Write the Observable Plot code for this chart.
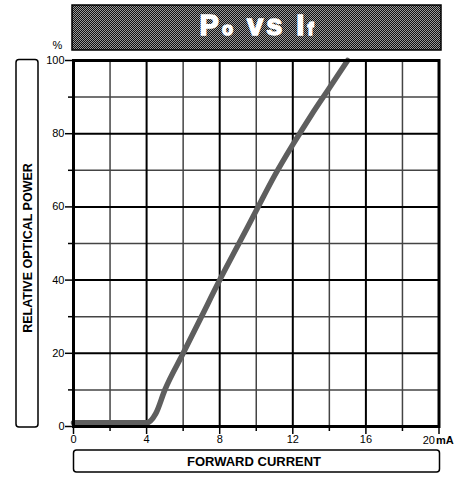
<!DOCTYPE html>
<html>
<head>
<meta charset="utf-8">
<script src="https://cdn.jsdelivr.net/npm/d3@7"></script>
<script src="https://cdn.jsdelivr.net/npm/@observablehq/plot@0.6"></script>
<style>
  html, body { margin: 0; padding: 0; background: #fff; }
</style>
</head>
<body>
<div id="chart"></div>
<script>
// Forward current (mA) vs relative optical power (%)
const current = [0, 1, 2, 3, 4, 4.5, 5, 6, 7, 8, 9, 10, 11, 12, 13, 14, 15];
const power   = [1, 1, 1, 1, 1, 3.5, 10, 20, 30, 40, 49.5, 59, 68.5, 77, 85, 92.5, 100];

const xMajorTicks = [0, 4, 8, 12, 16, 20];
const xMinorTicks = [2, 6, 10, 14, 18];
const yMajorTicks = [0, 20, 40, 60, 80, 100];
const yMinorTicks = [10, 30, 50, 70, 90];
const xGridMajor = [4, 8, 12, 16];
const yGridMajor = [20, 40, 60, 80];

const titleMain = "P", titleSub1 = "o", titleMid = " vs I", titleSub2 = "f";
const yTitle = "RELATIVE OPTICAL POWER";
const xTitle = "FORWARD CURRENT";
const yUnit = "%";
const xUnit = "mA";
const lastXLabel = "20";

const data = current.map((c, i) => ({current: c, power: power[i]}));

const W = 464, H = 480;
const mL = 73, mR = 25.5, mT = 60, mB = 54;
const font = "'Liberation Sans', Arial, sans-serif";

const chart = Plot.plot({
  width: W,
  height: H,
  marginLeft: mL,
  marginRight: mR,
  marginTop: mT,
  marginBottom: mB,
  x: {type: "linear", domain: [0, 20]},
  y: {type: "linear", domain: [0, 100]},
  style: {fontFamily: font, fontSize: "11px", color: "black", background: "white"},
  marks: [
    Plot.gridX(xMinorTicks, {stroke: "#444", strokeWidth: 1.5, strokeOpacity: 1}),
    Plot.gridY(yMinorTicks, {stroke: "#444", strokeWidth: 1.5, strokeOpacity: 1}),
    Plot.gridX(xGridMajor, {stroke: "#000", strokeWidth: 2, strokeOpacity: 1}),
    Plot.gridY(yGridMajor, {stroke: "#000", strokeWidth: 2, strokeOpacity: 1}),
    Plot.line(data, {x: "current", y: "power", stroke: "url(#curvePat)", strokeWidth: 5.5, curve: "monotone-x"}),
    Plot.frame({stroke: "black", strokeWidth: 3}),
    Plot.axisX(xMinorTicks, {tickSize: 5, tickFormat: () => "", label: null, strokeWidth: 1.5}),
    Plot.axisX(xMajorTicks, {tickSize: 8, tickPadding: 1, label: null, strokeWidth: 1.5, fontSize: 11,
      tickFormat: d => d === 20 ? "" : String(d)}),
    Plot.axisY(yMinorTicks, {tickSize: 5, tickFormat: () => "", label: null, strokeWidth: 1.5}),
    Plot.axisY(yMajorTicks, {tickSize: 8, tickPadding: 1, label: null, strokeWidth: 1.5, fontSize: 11}),
    Plot.text([lastXLabel], {x: 20, y: 0, text: d => d, textAnchor: "end", dx: -4, dy: 14, fontSize: 11}),
    Plot.text([xUnit], {x: 20, y: 0, text: d => d, textAnchor: "start", dx: -3, dy: 14, fontSize: 11, fontWeight: "bold"}),
    Plot.text([yUnit], {x: 0, y: 100, text: d => d, textAnchor: "middle", dx: -16, dy: -15, fontSize: 11})
  ]
});

const svg = d3.select(chart);
const defs = svg.insert("defs", ":first-child");
const cp = defs.append("pattern").attr("id", "curvePat").attr("patternUnits", "userSpaceOnUse")
  .attr("width", 2).attr("height", 2);
cp.append("rect").attr("width", 2).attr("height", 2).attr("fill", "#000");
cp.append("rect").attr("width", 1).attr("height", 1).attr("fill", "#fff");
cp.append("rect").attr("x", 1).attr("y", 1).attr("width", 1).attr("height", 1).attr("fill", "#777");

const tp = defs.append("pattern").attr("id", "titlePat").attr("patternUnits", "userSpaceOnUse")
  .attr("width", 2).attr("height", 2);
tp.append("rect").attr("width", 2).attr("height", 2).attr("fill", "#111");
tp.append("rect").attr("width", 1).attr("height", 1).attr("fill", "#9a9a9a");
tp.append("rect").attr("x", 1).attr("y", 1).attr("width", 1).attr("height", 1).attr("fill", "#9a9a9a");

// Title box
const deco = svg.append("g");
deco.append("rect").attr("x", 72).attr("y", 5).attr("width", 369).attr("height", 45)
  .attr("fill", "url(#titlePat)").attr("stroke", "black").attr("stroke-width", 1.5);
const tt = deco.append("text").attr("x", 258).attr("y", 35).attr("text-anchor", "middle")
  .attr("fill", "white").attr("stroke", "white").attr("stroke-width", 1.4)
  .attr("font-family", "'Liberation Sans', Arial, sans-serif")
  .attr("font-weight", "bold").attr("font-size", 29).style("letter-spacing", "3px");
tt.append("tspan").text(titleMain);
tt.append("tspan").attr("font-size", 18).text(titleSub1);
tt.append("tspan").attr("xml:space", "preserve").text(titleMid);
tt.append("tspan").attr("font-size", 18).text(titleSub2);

// Y title box
deco.append("rect").attr("x", 16).attr("y", 59.5).attr("width", 22).attr("height", 367.5)
  .attr("rx", 3).attr("fill", "white").attr("stroke", "black").attr("stroke-width", 1.5);
deco.append("text").attr("transform", "translate(32,248) rotate(-90)").attr("text-anchor", "middle")
  .attr("font-family", font).attr("font-weight", "bold").attr("font-size", 12.5).text(yTitle);

// X title box
deco.append("rect").attr("x", 73.5).attr("y", 450).attr("width", 366).attr("height", 22)
  .attr("rx", 3).attr("fill", "white").attr("stroke", "black").attr("stroke-width", 1.5);
deco.append("text").attr("x", 254).attr("y", 466).attr("text-anchor", "middle")
  .attr("font-family", font).attr("font-weight", "bold").attr("font-size", 13).text(xTitle);

document.getElementById("chart").appendChild(chart);
</script>
</body>
</html>
